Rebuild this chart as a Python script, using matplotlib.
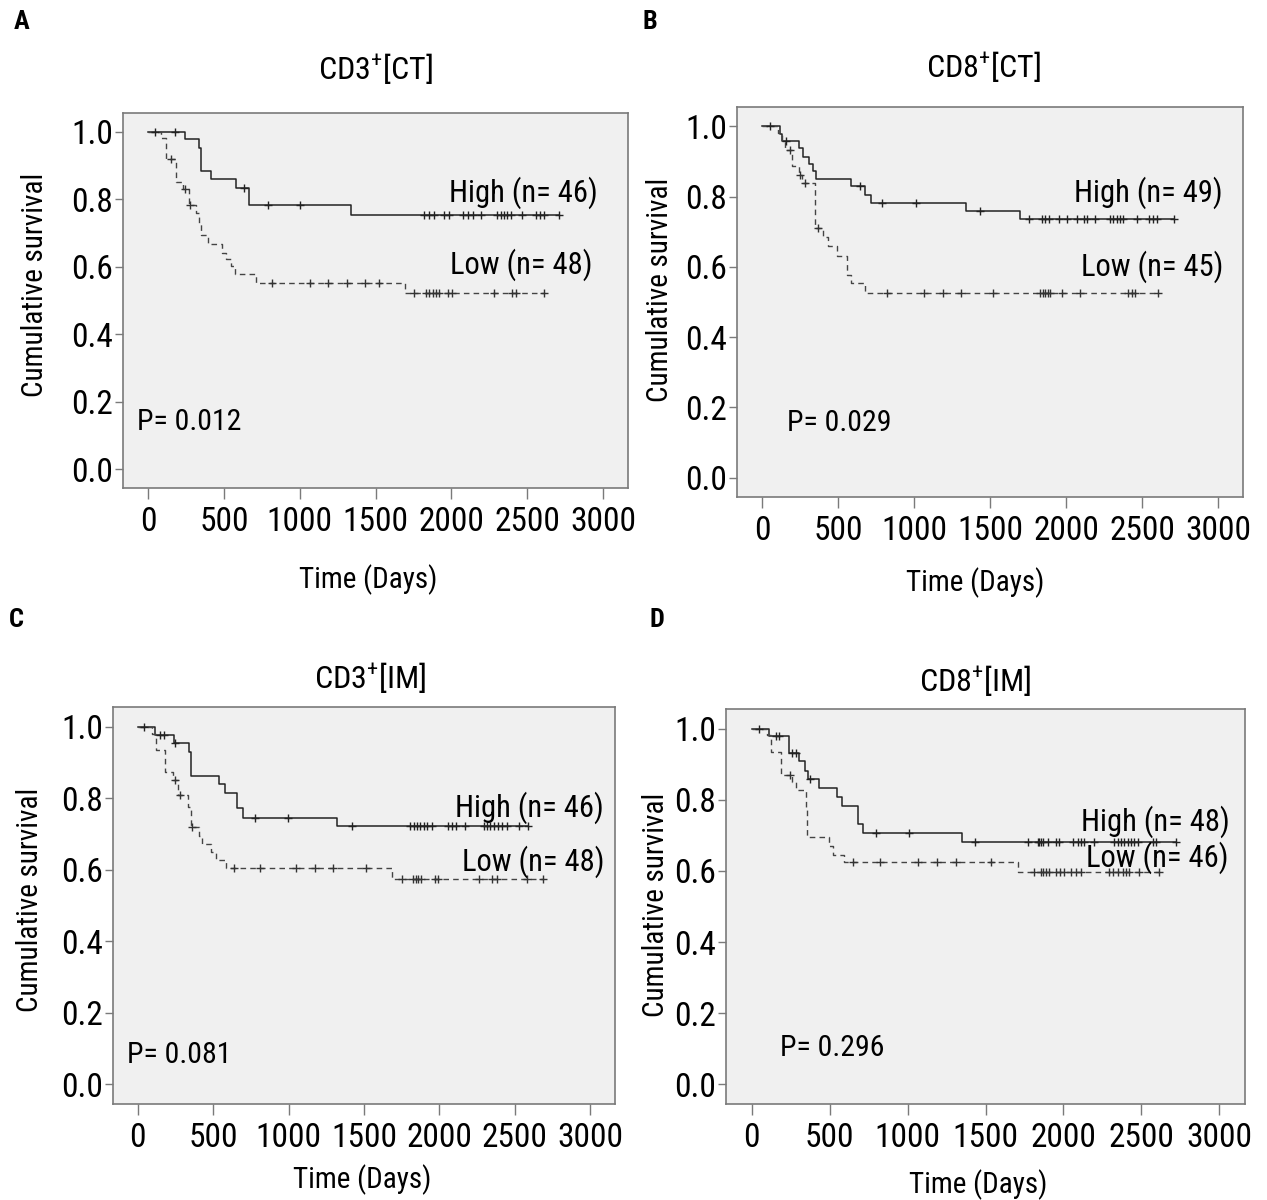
import numpy as np
import matplotlib
matplotlib.use("Agg")
import matplotlib.pyplot as plt
from matplotlib import font_manager as fm

# ---- pick a condensed sans font if one is installed ----
_names = {(f.name, str(f.stretch)) for f in fm.fontManager.ttflist}
_all_names = {f.name for f in fm.fontManager.ttflist}
FAM, STRETCH = 'DejaVu Sans', 'normal'
for cand in ['Liberation Sans Narrow', 'Arial Narrow', 'Roboto Condensed',
             'Open Sans Condensed', 'Noto Sans Condensed', 'DejaVu Sans Condensed']:
    if cand in _all_names:
        FAM, STRETCH = cand, 'normal'
        break
else:
    for (n, st) in _names:
        if n in ('DejaVu Sans', 'Noto Sans', 'Open Sans', 'Roboto') and st in ('condensed', 'semi-condensed', '75', '87.5'):
            FAM, STRETCH = n, st
            break
    else:
        FAM, STRETCH = 'Liberation Sans', 'normal'

plt.rcParams['font.family'] = [FAM, 'DejaVu Sans']
plt.rcParams['font.stretch'] = STRETCH
plt.rcParams['mathtext.fontset'] = 'custom'
plt.rcParams['mathtext.rm'] = FAM
plt.rcParams['mathtext.it'] = FAM
plt.rcParams['mathtext.bf'] = FAM + ':bold'

# ---------------- data ----------------
x_ticks = [0, 500, 1000, 1500, 2000, 2500, 3000]
y_ticks = [0.0, 0.2, 0.4, 0.6, 0.8, 1.0]

panel_letters = ['A', 'B', 'C', 'D']
panel_titles = ['CD3$^{+}$[CT]', 'CD8$^{+}$[CT]', 'CD3$^{+}$[IM]', 'CD8$^{+}$[IM]']
p_values = ['P= 0.012', 'P= 0.029', 'P= 0.081', 'P= 0.296']
high_labels = ['High (n= 46)', 'High (n= 49)', 'High (n= 46)', 'High (n= 48)']
low_labels = ['Low (n= 48)', 'Low (n= 45)', 'Low (n= 48)', 'Low (n= 46)']

# Panel A  CD3+ [CT]
a_high_t = [242, 336, 352, 417, 582, 669, 1339]
a_high_s = [0.977, 0.952, 0.883, 0.859, 0.832, 0.782, 0.754]
a_high_c = [44, 176, 636, 790, 1005, 1821, 1854, 1887, 1953, 1986, 2074, 2107,
            2140, 2194, 2304, 2326, 2348, 2370, 2392, 2469, 2557, 2583, 2611]
a_high_end = 2710
a_low_t = [88, 121, 182, 231, 270, 318, 334, 352, 395, 490, 516, 549, 571, 709, 1696]
a_low_s = [0.982, 0.918, 0.851, 0.829, 0.782, 0.760, 0.730, 0.693, 0.668, 0.642,
           0.622, 0.602, 0.577, 0.553, 0.523]
a_low_c = [154, 242, 274, 819, 1065, 1185, 1313, 1433, 1521, 1756, 1832, 1854,
           1876, 1898, 1920, 1975, 2003, 2282, 2403, 2429]
a_low_end = 2611

# Panel B  CD8+ [CT]
b_high_t = [120, 131, 244, 272, 310, 338, 355, 585, 676, 715, 1342, 1697]
b_high_s = [0.978, 0.957, 0.937, 0.914, 0.892, 0.873, 0.850, 0.829, 0.804,
            0.783, 0.759, 0.735]
b_high_c = [50, 157, 643, 792, 1010, 1435, 1756, 1843, 1865, 1887, 1952, 2007,
            2073, 2116, 2138, 2192, 2290, 2312, 2334, 2356, 2378, 2465, 2548,
            2574, 2600]
b_high_end = 2710
b_low_t = [104, 131, 152, 196, 240, 262, 349, 403, 436, 491, 556, 585, 676]
b_low_s = [0.980, 0.956, 0.933, 0.888, 0.861, 0.838, 0.712, 0.685, 0.660,
           0.631, 0.578, 0.555, 0.526]
b_low_c = [181, 251, 283, 366, 824, 1068, 1188, 1309, 1522, 1832, 1850, 1865,
           1880, 1898, 1974, 2094, 2410, 2432, 2454]
b_low_end = 2607

# Panel C  CD3+ [IM]
c_high_t = [113, 237, 338, 353, 539, 578, 659, 698, 1324]
c_high_s = [0.977, 0.955, 0.930, 0.861, 0.840, 0.815, 0.773, 0.746, 0.721]
c_high_c = [43, 150, 172, 244, 779, 997, 1418, 1808, 1830, 1852, 1874, 1896,
            1918, 1953, 2055, 2081, 2109, 2171, 2295, 2317, 2339, 2361, 2389,
            2415, 2448, 2525]
c_high_end = 2590
c_low_t = [91, 120, 178, 233, 266, 331, 353, 403, 425, 484, 517, 582, 1684]
c_low_s = [0.980, 0.935, 0.873, 0.850, 0.808, 0.775, 0.720, 0.694, 0.673,
           0.650, 0.627, 0.604, 0.574]
c_low_c = [244, 277, 360, 637, 812, 1052, 1172, 1292, 1510, 1750, 1826, 1844,
           1859, 1881, 1968, 1990, 2262, 2349, 2382, 2578]
c_low_end = 2688

# Panel D  CD8+ [IM]
d_high_t = [111, 240, 304, 340, 362, 432, 550, 582, 679, 711, 1349]
d_high_s = [0.979, 0.932, 0.908, 0.882, 0.858, 0.834, 0.809, 0.783, 0.733,
            0.707, 0.680]
d_high_c = [47, 154, 176, 257, 283, 375, 796, 1010, 1434, 1771, 1835, 1846,
            1856, 1867, 1899, 1953, 1974, 2060, 2092, 2113, 2135, 2199, 2327,
            2348, 2370, 2391, 2413, 2434, 2455, 2477, 2573, 2595]
d_high_end = 2723
d_low_t = [101, 122, 186, 261, 283, 347, 357, 496, 522, 593, 1706]
d_low_s = [0.981, 0.935, 0.870, 0.851, 0.828, 0.780, 0.695, 0.669, 0.646,
           0.624, 0.596]
d_low_c = [246, 647, 824, 1070, 1192, 1310, 1535, 1813, 1856, 1871, 1888, 1905,
           1953, 1980, 2006, 2049, 2081, 2113, 2295, 2320, 2348, 2380, 2402,
           2423, 2488]
d_low_end = 2616

curves = [
    ((a_high_t, a_high_s, a_high_c, a_high_end), (a_low_t, a_low_s, a_low_c, a_low_end)),
    ((b_high_t, b_high_s, b_high_c, b_high_end), (b_low_t, b_low_s, b_low_c, b_low_end)),
    ((c_high_t, c_high_s, c_high_c, c_high_end), (c_low_t, c_low_s, c_low_c, c_low_end)),
    ((d_high_t, d_high_s, d_high_c, d_high_end), (d_low_t, d_low_s, d_low_c, d_low_end)),
]

# ---------------- layout (pixels) ----------------
W, H = 1267, 1200
fig = plt.figure(figsize=(W / 100, H / 100), dpi=100)
fig.patch.set_facecolor('white')

boxes = [(123, 113, 628, 488), (737, 107, 1243, 497),
         (113, 707, 615, 1104), (726, 709, 1245, 1104)]
letter_pos = [(22, 22), (650, 22), (16, 620), (657, 620)]
title_pos = [(375, 68), (983, 66), (370, 678), (975, 681)]
ylabel_pos = [(35, 285), (660, 290), (30, 900), (656, 905)]
xlabel_pos = [(368, 580), (975, 583), (362, 1180), (978, 1185)]
high_pos = [(598, 193), (1223, 193), (604, 808), (1230, 822)]
low_pos = [(592, 265), (1223, 267), (604, 862), (1228, 858)]
p_pos = [(137, 422), (787, 423), (127, 1055), (780, 1048)]

narrow = FAM != 'Liberation Sans' and FAM != 'DejaVu Sans' or STRETCH != 'normal'
k = 1.0 if narrow else 0.8
TICK_FS = 24 * k
TITLE_FS = 23 * k
LAB_FS = 22 * k
AX_FS = 21 * k
P_FS = 21.5 * k


def fx(px):
    return px / W


def fy(py):
    return 1 - py / H


def km_steps(t, s, end):
    tt = [0] + list(t) + [end]
    ss = [1.0] + list(s) + [s[-1]]
    return np.array(tt, float), np.array(ss, float)


def surv_at(t, s, times):
    t = np.asarray(t, float)
    s = np.asarray(s, float)
    idx = np.searchsorted(t, np.asarray(times, float), side='right') - 1
    return np.where(idx >= 0, s[np.clip(idx, 0, None)], 1.0)


for i in range(4):
    l, t, r, b = boxes[i]
    ax = fig.add_axes([fx(l), fy(b), (r - l) / W, (b - t) / H])
    ax.set_facecolor('#f0f0f0')
    for sp in ax.spines.values():
        sp.set_color('#7a7a7a')
        sp.set_linewidth(1.2)

    (ht, hs, hc, he), (lt, ls, lc, le) = curves[i]
    tt, ss = km_steps(ht, hs, he)
    ax.step(tt, ss, where='post', color='#222222', lw=1.1, zorder=3)
    cens = list(hc) + [he]
    ax.plot(cens, surv_at(ht, hs, cens), linestyle='none', marker='+',
            ms=6, mew=1.0, color='#222222', zorder=4)
    tt, ss = km_steps(lt, ls, le)
    ax.step(tt, ss, where='post', color='#444444', lw=1.0,
            linestyle=(0, (4, 3)), zorder=3)
    cens = list(lc) + [le]
    ax.plot(cens, surv_at(lt, ls, cens), linestyle='none', marker='+',
            ms=6, mew=1.0, color='#333333', zorder=4)

    ax.set_xlim(-165, 3165)
    ax.set_ylim(-0.055, 1.055)
    ax.set_xticks(x_ticks)
    ax.set_xticklabels([str(v) for v in x_ticks])
    ax.set_yticks(y_ticks)
    ax.set_yticklabels(['%.1f' % v for v in y_ticks])
    ax.tick_params(axis='both', direction='out', color='#7a7a7a',
                   labelsize=TICK_FS, labelcolor='black', width=1.0)
    ax.tick_params(axis='y', length=6, pad=1)
    ax.tick_params(axis='x', length=8, pad=5)

    fig.text(fx(letter_pos[i][0]), fy(letter_pos[i][1]), panel_letters[i],
             fontsize=19, fontweight='bold', ha='center', va='center')
    fig.text(fx(title_pos[i][0]), fy(title_pos[i][1]), panel_titles[i],
             fontsize=TITLE_FS, ha='center', va='center')
    fig.text(fx(ylabel_pos[i][0]), fy(ylabel_pos[i][1]), 'Cumulative survival',
             fontsize=AX_FS, ha='center', va='center', rotation=90)
    fig.text(fx(xlabel_pos[i][0]), fy(xlabel_pos[i][1]), 'Time (Days)',
             fontsize=AX_FS, ha='center', va='center')
    fig.text(fx(high_pos[i][0]), fy(high_pos[i][1]), high_labels[i],
             fontsize=LAB_FS, ha='right', va='center', zorder=5)
    fig.text(fx(low_pos[i][0]), fy(low_pos[i][1]), low_labels[i],
             fontsize=LAB_FS, ha='right', va='center', zorder=5)
    fig.text(fx(p_pos[i][0]), fy(p_pos[i][1]), p_values[i],
             fontsize=P_FS, ha='left', va='center')

fig.savefig('out.png', dpi=100, facecolor='white')
